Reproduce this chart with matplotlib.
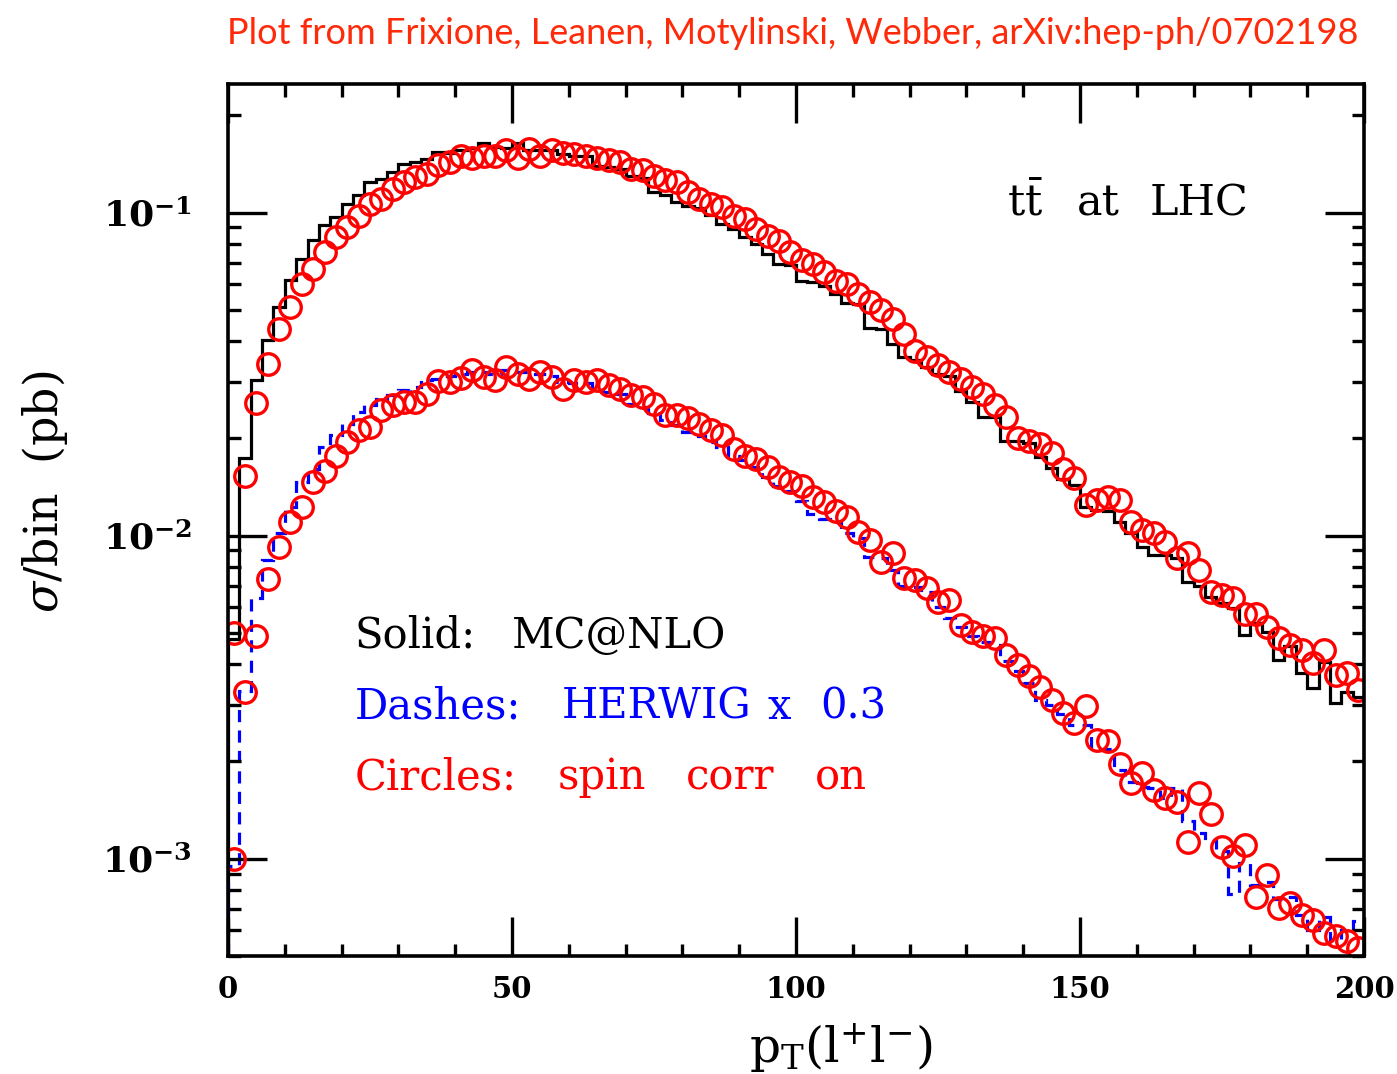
import numpy as np
import matplotlib
matplotlib.use("Agg")
import matplotlib.pyplot as plt
from matplotlib.ticker import FixedLocator, NullFormatter

# ---------------- data (bin width 2, pT from 0 to 200) ----------------
bin_edges = np.arange(0, 202, 2)
bin_centers = np.arange(1, 200, 2)

mcnlo = [0.0048, 0.0174, 0.0303, 0.0402, 0.0511, 0.0620, 0.0719, 0.0824, 0.0918, 0.0972,
         0.106, 0.113, 0.124, 0.127, 0.134, 0.141, 0.143, 0.146, 0.154, 0.153,
         0.156, 0.158, 0.164, 0.160, 0.158, 0.164, 0.156, 0.156, 0.156, 0.152,
         0.150, 0.150, 0.139, 0.138, 0.136, 0.130, 0.128, 0.116, 0.113, 0.108,
         0.105, 0.103, 0.098, 0.0923, 0.089, 0.0839, 0.080, 0.0746, 0.0694, 0.0690,
         0.0616, 0.0610, 0.0594, 0.0560, 0.0525, 0.0520, 0.0440, 0.0435, 0.0393, 0.0357,
         0.0350, 0.0333, 0.0317, 0.0312, 0.0280, 0.0260, 0.0233, 0.0233, 0.0197, 0.0197,
         0.0193, 0.0175, 0.0162, 0.0150, 0.0143, 0.0123, 0.0120, 0.0119, 0.0110, 0.0102,
         0.00923, 0.00871, 0.00871, 0.00850, 0.00719, 0.00700, 0.00647, 0.00618, 0.00596, 0.00492,
         0.00535, 0.00503, 0.00412, 0.00454, 0.00375, 0.00338, 0.00405, 0.00303, 0.00329, 0.00316]

mcnlo_spin = [0.0050, 0.0153, 0.0257, 0.0341, 0.0437, 0.0511, 0.0599, 0.0667, 0.0754, 0.0839,
              0.0901, 0.0979, 0.106, 0.110, 0.118, 0.124, 0.129, 0.132, 0.140, 0.143,
              0.150, 0.148, 0.150, 0.150, 0.156, 0.148, 0.157, 0.150, 0.156, 0.153,
              0.152, 0.150, 0.148, 0.145, 0.143, 0.136, 0.135, 0.130, 0.126, 0.124,
              0.116, 0.110, 0.106, 0.104, 0.0979, 0.0955, 0.0891, 0.0849, 0.0819, 0.0753,
              0.0711, 0.0694, 0.0653, 0.0616, 0.0602, 0.0561, 0.0528, 0.0498, 0.0469, 0.0421,
              0.0374, 0.0357, 0.0337, 0.0321, 0.0306, 0.0288, 0.0275, 0.0253, 0.0233, 0.0200,
              0.0197, 0.0192, 0.0180, 0.0161, 0.0151, 0.0124, 0.0129, 0.0132, 0.0129, 0.0110,
              0.0104, 0.0102, 0.00957, 0.00851, 0.00881, 0.00782, 0.00670, 0.00655, 0.00640, 0.00574,
              0.00574, 0.00522, 0.00481, 0.00459, 0.00443, 0.00403, 0.00443, 0.00370, 0.00375, 0.00333]

herwig = [0.00095, 0.0033, 0.0064, 0.0084, 0.0102, 0.0123, 0.0147, 0.0161, 0.0188, 0.0205,
          0.0222, 0.0242, 0.0253, 0.0265, 0.0272, 0.0282, 0.0289, 0.0303, 0.0306, 0.0313,
          0.0317, 0.0321, 0.0321, 0.0317, 0.0325, 0.0321, 0.0321, 0.0317, 0.0313, 0.0300,
          0.0296, 0.0296, 0.0282, 0.0279, 0.0275, 0.0256, 0.0250, 0.0239, 0.0228, 0.0220,
          0.0209, 0.0203, 0.0195, 0.0188, 0.0177, 0.0172, 0.0163, 0.0152, 0.0142, 0.0137,
          0.0128, 0.0117, 0.0113, 0.0110, 0.0102, 0.0098, 0.00859, 0.00850, 0.00782, 0.00700,
          0.00695, 0.00670, 0.0060, 0.00555, 0.0052, 0.0049, 0.0047, 0.0046, 0.0041, 0.0038,
          0.0035, 0.0031, 0.0030, 0.0028, 0.0026, 0.00259, 0.00219, 0.00219, 0.00188, 0.00173,
          0.00167, 0.00166, 0.00154, 0.00166, 0.00131, 0.00120, 0.00114, 0.00106, 0.00078, 0.00097,
          0.00083, 0.00085, 0.00075, 0.00076, 0.00067, 0.00060, 0.00066, 0.00056, 0.00060, 0.00064]

herwig_spin = [0.00100, 0.00328, 0.00490, 0.00733, 0.00920, 0.0110, 0.0123, 0.0147, 0.0159, 0.0177,
               0.0195, 0.0212, 0.0217, 0.0244, 0.0253, 0.0259, 0.0259, 0.0274, 0.0301, 0.0300,
               0.0308, 0.0325, 0.0310, 0.0303, 0.0333, 0.0317, 0.0306, 0.0321, 0.0310, 0.0285,
               0.0303, 0.0300, 0.0303, 0.0292, 0.0285, 0.0272, 0.0269, 0.0256, 0.0236, 0.0236,
               0.0231, 0.0222, 0.0212, 0.0205, 0.0186, 0.0177, 0.0173, 0.0163, 0.0152, 0.0147,
               0.0142, 0.0132, 0.0127, 0.0119, 0.0114, 0.0103, 0.00968, 0.00830, 0.00882, 0.00738,
               0.00729, 0.00687, 0.00625, 0.00630, 0.00528, 0.00503, 0.00490, 0.00481, 0.00428, 0.00398,
               0.00367, 0.00341, 0.00310, 0.00282, 0.00263, 0.00296, 0.00233, 0.00232, 0.00196, 0.00171,
               0.00184, 0.00163, 0.00154, 0.00150, 0.00113, 0.00160, 0.00138, 0.00109, 0.00102, 0.00110,
               0.000764, 0.000891, 0.000703, 0.000729, 0.000671, 0.000648, 0.000589, 0.000575, 0.000555, 0.000530]

x_ticks = [0, 50, 100, 150, 200]
x_tick_labels = ["0", "50", "100", "150", "200"]
y_ticks = [1e-3, 1e-2, 1e-1]
y_tick_labels = [r"$\mathbf{10^{-3}}$", r"$\mathbf{10^{-2}}$", r"$\mathbf{10^{-1}}$"]

# ---------------- figure ----------------
plt.rcParams["mathtext.fontset"] = "dejavuserif"
SERIF = "DejaVu Serif"

fig = plt.figure(figsize=(13.97, 10.74), dpi=100)
ax = fig.add_axes([228 / 1397, 1 - 956 / 1074, (1364 - 228) / 1397, (956 - 84) / 1074])

ymin, ymax = 5.0e-4, 0.25
ax.set_yscale("log")
ax.set_xlim(0, 200)
ax.set_ylim(ymin, ymax)

ax.stairs(mcnlo, bin_edges, baseline=ymin, color="black", lw=2.3)
ax.stairs(herwig, bin_edges, baseline=ymin, color="#0000ff", lw=2.3,
          linestyle=(0, (3.8, 2.6)))
ax.plot(bin_centers, mcnlo_spin, "o", ms=15.5, mfc="none", mec="#ff0000", mew=2.4)
ax.plot(bin_centers, herwig_spin, "o", ms=15.5, mfc="none", mec="#ff0000", mew=2.4)

for s in ax.spines.values():
    s.set_linewidth(2.6)

ax.xaxis.set_major_locator(FixedLocator(x_ticks))
ax.xaxis.set_minor_locator(FixedLocator(np.arange(0, 201, 10)))
ax.set_xticklabels(x_tick_labels)
ax.yaxis.set_major_locator(FixedLocator(y_ticks))
minors = [m * 10.0 ** e for e in (-4, -3, -2, -1) for m in range(2, 10)]
ax.yaxis.set_minor_locator(FixedLocator([v for v in minors if ymin <= v <= ymax]))
ax.yaxis.set_minor_formatter(NullFormatter())
ax.set_yticklabels(y_tick_labels)

ax.tick_params(which="both", direction="in", top=True, right=True, width=2.4, colors="black")
ax.tick_params(which="major", length=28)
ax.tick_params(which="minor", length=9)
ax.tick_params(axis="x", which="major", pad=14)
ax.tick_params(axis="y", which="major", pad=26)
for lab in ax.get_xticklabels():
    lab.set_fontfamily(SERIF)
    lab.set_fontweight("bold")
    lab.set_fontsize(21)
for lab in ax.get_yticklabels():
    lab.set_fontfamily(SERIF)
    lab.set_fontsize(26)

ax.set_ylabel(r"$\sigma$/bin  (pb)", fontsize=33, family=SERIF)
ax.yaxis.set_label_coords(-0.139, 0.532)
ax.set_xlabel(r"$\mathrm{p_T(l^{+}l^{-})}$", fontsize=35, family=SERIF)
ax.xaxis.set_label_coords(0.539, -0.075)


def place_words(words, xs_px, y_frac, color, size):
    for w, xp in zip(words, xs_px):
        ax.text((xp - 228) / 1136, y_frac, w, transform=ax.transAxes, fontsize=size,
                family=SERIF, va="center", ha="left", color=color)


place_words([r"$\mathrm{t\bar{t}}$", "at", "LHC"], [1007, 1077, 1150], 0.8635, "black", 31)
place_words(["Solid:", "MC@NLO"], [355, 512], 0.367, "black", 30)
place_words(["Dashes:", "HERWIG", "x", "0.3"], [355, 562, 768, 820], 0.286, "#0000ff", 30)
place_words(["Circles:", "spin", "corr", "on"], [355, 558, 686, 815], 0.205, "#ff0000", 30)

fig.text(1358 / 1397, 1 - 33 / 1074, "Plot from Frixione, Leanen, Motylinski, Webber, arXiv:hep-ph/0702198",
         ha="right", va="center", fontsize=26, family="Lato", color="#ff2a0a")

fig.savefig("out.png", dpi=100)
